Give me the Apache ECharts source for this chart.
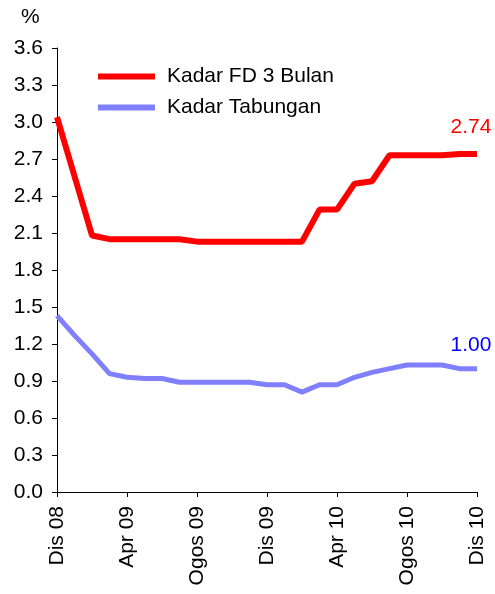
<!DOCTYPE html>
<html>
<head>
<meta charset="utf-8">
<script src="https://cdn.jsdelivr.net/npm/echarts@6/dist/echarts.min.js"></script>
<style>html,body{margin:0;padding:0;background:#fff}#c{width:495px;height:594px}</style>
</head>
<body>
<div id="c"></div>
<script>
var months = ['Dis 08','Jan 09','Feb 09','Mac 09','Apr 09','Mei 09','Jun 09','Jul 09','Ogos 09','Sep 09','Okt 09','Nov 09','Dis 09','Jan 10','Feb 10','Mac 10','Apr 10','Mei 10','Jun 10','Jul 10','Ogos 10','Sep 10','Okt 10','Nov 10','Dis 10'];
var fd3 = [3.04,2.56,2.08,2.05,2.05,2.05,2.05,2.05,2.03,2.03,2.03,2.03,2.03,2.03,2.03,2.29,2.29,2.50,2.52,2.73,2.73,2.73,2.73,2.74,2.74];
var tabungan = [1.43,1.27,1.12,0.96,0.93,0.92,0.92,0.89,0.89,0.89,0.89,0.89,0.87,0.87,0.81,0.87,0.87,0.93,0.97,1.00,1.03,1.03,1.03,1.00,1.00];
var yTicks = [0,0.3,0.6,0.9,1.2,1.5,1.8,2.1,2.4,2.7,3.0,3.3,3.6];
var seriesNames = ['Kadar FD 3 Bulan','Kadar Tabungan'];

var FONT = 'Liberation Sans, Arial, sans-serif';
var FS = 21;
var chart = echarts.init(document.getElementById('c'), null, {renderer:'canvas'});
function lastLabel(arr){
  return function(){ return arr[arr.length-1].toFixed(2); };
}
chart.setOption({
  animation:false,
  backgroundColor:'#fff',
  grid:{left:57,right:18,top:48,bottom:102,containLabel:false},
  graphic:[{type:'text',left:21,top:7,style:{text:'%',font:FS+'px '+FONT,fill:'#000'}}],
  legend:{
    orient:'vertical',left:98,top:66,itemGap:10,padding:0,
    itemWidth:57,itemHeight:6,icon:'rect',
    textStyle:{fontFamily:FONT,fontSize:FS,color:'#000',padding:[0,0,0,7]},
    data:seriesNames
  },
  xAxis:{
    type:'category',data:months,boundaryGap:false,
    axisLine:{lineStyle:{color:'#000',width:1}},
    axisTick:{interval:3,length:5,lineStyle:{color:'#000'}},
    axisLabel:{interval:3,rotate:90,margin:14,fontFamily:FONT,fontSize:FS,color:'#000'},
    splitLine:{show:false}
  },
  yAxis:{
    type:'value',min:yTicks[0],max:yTicks[yTicks.length-1],interval:0.3,
    axisLine:{show:true,lineStyle:{color:'#000',width:1}},
    axisTick:{show:true,length:5,lineStyle:{color:'#000'}},
    axisLabel:{margin:14,fontFamily:FONT,fontSize:FS,color:'#000',formatter:function(v){return v.toFixed(1);}},
    splitLine:{show:false}
  },
  series:[
    {name:seriesNames[0],type:'line',data:fd3,showSymbol:false,symbol:'none',
     lineStyle:{color:'#ff0000',width:6},itemStyle:{color:'#ff0000'},
     endLabel:{show:true,distance:0,align:'center',verticalAlign:'bottom',offset:[-6,-16],color:'#ff0000',fontFamily:FONT,fontSize:FS,formatter:lastLabel(fd3)}},
    {name:seriesNames[1],type:'line',data:tabungan,showSymbol:false,symbol:'none',
     lineStyle:{color:'#8080ff',width:5},itemStyle:{color:'#8080ff'},
     endLabel:{show:true,distance:0,align:'center',verticalAlign:'bottom',offset:[-6,-13],color:'#0000ff',fontFamily:FONT,fontSize:FS,formatter:lastLabel(tabungan)}}
  ]
});
</script>
</body>
</html>
